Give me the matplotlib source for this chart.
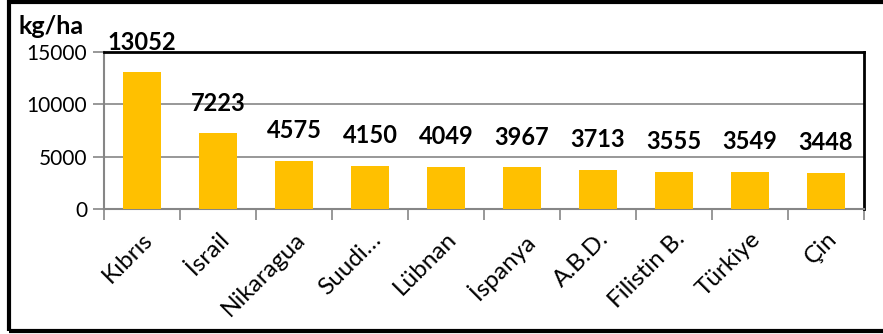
import matplotlib.pyplot as plt
import numpy as np
from matplotlib.patches import Rectangle

ulkeler = ["Kıbrıs", "İsrail", "Nikaragua", "Suudi…", "Lübnan", "İspanya",
           "A.B.D.", "Filistin B.", "Türkiye", "Çin"]
verim = [13052, 7223, 4575, 4150, 4049, 3967, 3713, 3555, 3549, 3448]
y_ticks = [0, 5000, 10000, 15000]

plt.rcParams['font.family'] = ['Lato', 'DejaVu Sans']

fig = plt.figure(figsize=(8.83, 3.34), dpi=100)
ax = fig.add_axes([104/883, 1 - 209/334, (864-104)/883, (209-52)/334])

x = np.arange(len(ulkeler))
ax.bar(x, verim, width=0.5, color="#FFC000", zorder=3)
for xi, v in zip(x, verim):
    ax.annotate(str(v), (xi, v), xytext=(0, 13.5), textcoords="offset points",
                ha="center", va="bottom", fontsize=17, fontweight="bold",
                annotation_clip=False)

ax.set_xlim(-0.5, len(ulkeler) - 0.5)
ax.set_ylim(0, 15000)
ax.set_yticks(y_ticks)
ax.set_yticklabels([str(t) for t in y_ticks], fontsize=15)
ax.yaxis.grid(True, color="#868686", linewidth=1.2, zorder=0)

# kategori sinirlarinda isaretler
ax.set_xticks(np.arange(-0.5, len(ulkeler)), minor=False)
ax.set_xticklabels([])
ax.set_xticks(x, minor=True)
ax.set_xticklabels(ulkeler, minor=True, rotation=45, ha="right",
                   rotation_mode="anchor", fontsize=17.5)
ax.tick_params(axis="x", which="major", length=8, color="#868686", width=1.2)
ax.tick_params(axis="x", which="minor", length=0, pad=14)
ax.tick_params(axis="y", length=8, color="#868686", width=1.2, pad=4)

for s in ["left", "bottom"]:
    ax.spines[s].set_color("#868686")
    ax.spines[s].set_linewidth(1.5)
for s in ["top", "right"]:
    ax.spines[s].set_color("black")
    ax.spines[s].set_linewidth(2)

fig.text(18/883, 1 - 27/334, "kg/ha", fontsize=18, fontweight="bold",
         ha="left", va="center")

# cerceve
fig.patches.append(Rectangle((8.5/883, 1 - 331/334), 1.0, 329/334,
                             transform=fig.transFigure, fill=False,
                             edgecolor="black", linewidth=3))

fig.savefig("out.png", dpi=100)
